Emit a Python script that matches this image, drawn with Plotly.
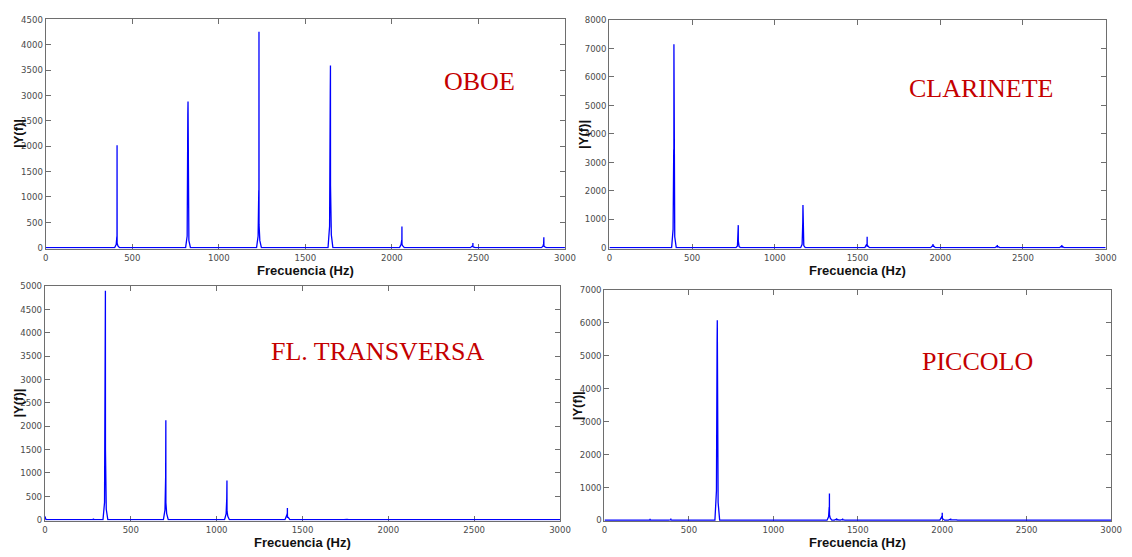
import plotly.graph_objects as go

# ---- spectral peaks read for each instrument (Hz, |Y(f)|) ----
oboe_freq = [412, 822, 1232, 1645, 2058, 2468, 2878]
oboe_amp = [2020, 2877, 4254, 3591, 418, 90, 206]
oboe_shoulder = [220, 2613, 1133, 3050, 150, 40, 80]
oboe_skirt = [60, 230, 230, 425, 60, 20, 30]
oboe_dc = 0

clar_freq = [390, 779, 1170, 1558, 1956, 2345, 2735]
clar_amp = [7140, 790, 1500, 380, 125, 90, 90]
clar_shoulder = [3444, 580, 870, 125, 80, 60, 60]
clar_skirt = [640, 60, 120, 100, 90, 60, 50]
clar_dc = 0

flute_freq = [282, 352, 704, 1060, 1412, 1755]
flute_amp = [25, 4895, 2127, 837, 251, 15]
flute_shoulder = [10, 3738, 907, 453, 120, 8]
flute_skirt = [5, 370, 210, 120, 80, 5]
flute_dc = 70

picc_freq = [270, 393, 668, 1332, 1375, 1410, 2000, 2050, 2085]
picc_amp = [40, 50, 6073, 811, 60, 50, 227, 30, 25]
picc_shoulder = [15, 20, 5390, 400, 30, 25, 120, 15, 12]
picc_skirt = [5, 5, 890, 100, 20, 15, 60, 8, 6]
picc_dc = 0

instrument_names = ["OBOE", "CLARINETE", "FL. TRANSVERSA", "PICCOLO"]
y_max = [4500, 8000, 5000, 7000]
y_step = [500, 1000, 500, 1000]
x_max = 3000
x_step = 500

W, H = 1132, 557


def spectrum(freq, amp, shoulder, skirt, dc):
    """Build a line through each peak: base -> skirt -> shoulder -> peak -> base."""
    xs, ys = [0, 6], [dc, 0]
    for f, a, s, k in zip(freq, amp, shoulder, skirt):
        xs += [f - 14, f - 5, f - 1.2, f - 0.4, f, f + 0.4, f + 5, f + 14]
        ys += [0, k, s, s * 0.6, a, s * 0.4, k * 0.6, 0]
    xs.append(x_max)
    ys.append(0)
    return xs, ys


series = [
    spectrum(oboe_freq, oboe_amp, oboe_shoulder, oboe_skirt, oboe_dc),
    spectrum(clar_freq, clar_amp, clar_shoulder, clar_skirt, clar_dc),
    spectrum(flute_freq, flute_amp, flute_shoulder, flute_skirt, flute_dc),
    spectrum(picc_freq, picc_amp, picc_shoulder, picc_skirt, picc_dc),
]

# panel boxes in pixels: left, right, top, bottom
boxes = [
    (43.3, 569.0, 13.5, 247.0),
    (614.0, 1116.5, 14.0, 247.0),
    (42.5, 564.0, 285.0, 524.0),
    (609.0, 1122.0, 289.0, 524.5),
]
# instrument label centres (pixels)
label_pos = [(482, 77), (990, 84), (380, 352), (987, 362)]

tick_font = dict(family="Liberation Sans Narrow, Arial Narrow, DejaVu Sans Condensed, sans-serif",
                 size=9.5, color="#4a4a4a")
title_font = dict(family="Liberation Sans Narrow, Arial Narrow, Liberation Sans, sans-serif",
                  size=13, color="#111111")

fig = go.Figure()
layout = dict(
    width=W, height=H,
    margin=dict(l=0, r=0, t=0, b=0),
    paper_bgcolor="white", plot_bgcolor="white",
    showlegend=False,
    annotations=[],
)

for i, ((xs, ys), (l, r, t, b)) in enumerate(zip(series, boxes)):
    n = "" if i == 0 else str(i + 1)
    fig.add_trace(go.Scatter(
        x=xs, y=ys, mode="lines",
        line=dict(color="#0000ff", width=1.3),
        xaxis="x" + n, yaxis="y" + n, hoverinfo="x+y",
    ))
    axis_common = dict(
        showline=True, linecolor="#6e6e6e", linewidth=1,
        mirror="ticks", ticks="inside", ticklen=5, tickcolor="#6e6e6e",
        showgrid=False, zeroline=False, tickfont=tick_font,
        layer="below traces",
    )
    layout["xaxis" + n] = dict(
        domain=[l / W, r / W], anchor="y" + n,
        range=[0, x_max], tickmode="linear", tick0=0, dtick=x_step,
        **axis_common,
    )
    ym = y_max[i]
    layout["yaxis" + n] = dict(
        domain=[1 - b / H, 1 - t / H], anchor="x" + n,
        range=[-0.004 * ym, ym], tickmode="linear", tick0=0, dtick=y_step[i],
        **axis_common,
    )
    # axis titles
    layout["annotations"].append(dict(
        text="<b>Frecuencia (Hz)</b>", xref="paper", yref="paper",
        x=(l + r) / 2 / W, y=1 - (b + 22) / H, showarrow=False,
        xanchor="center", yanchor="middle", font=title_font,
    ))
    layout["annotations"].append(dict(
        text="<b>|Y(f)|</b>", xref="paper", yref="paper",
        x=(l - 27) / W, y=1 - (t + b) / 2 / H, showarrow=False, textangle=-90,
        xanchor="center", yanchor="middle",
        font=dict(family="Liberation Sans, Arial, sans-serif", size=13, color="#111111"),
    ))
    # instrument name
    cx, cy = label_pos[i]
    layout["annotations"].append(dict(
        text=instrument_names[i], xref="paper", yref="paper",
        x=cx / W, y=1 - cy / H, showarrow=False,
        xanchor="center", yanchor="middle",
        font=dict(family="Liberation Serif, Times New Roman, serif", size=26, color="#c40000"),
    ))

fig.update_layout(**layout)
fig.write_html("out.html")
